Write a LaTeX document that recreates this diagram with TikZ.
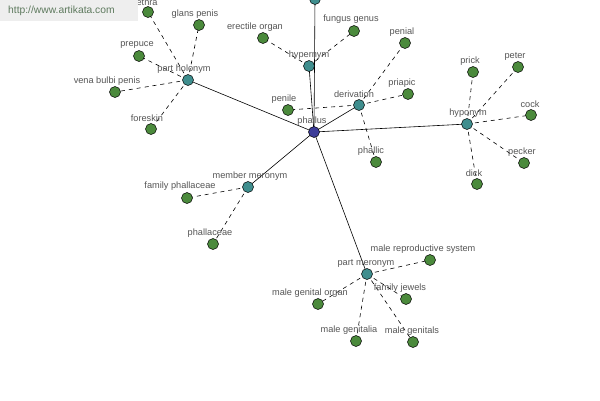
\documentclass[tikz,border=0pt]{standalone}
\usepackage{fontspec}
\setmainfont{Liberation Sans}
\usetikzlibrary{backgrounds}
\definecolor{leafc}{HTML}{4B8A3C}
\definecolor{relc}{HTML}{3F8E8E}
\definecolor{rootc}{HTML}{3C3C98}
\definecolor{txtc}{HTML}{555555}
\definecolor{wmc}{HTML}{5E7A5E}
\definecolor{wmbg}{HTML}{EEEEEE}
\tikzset{
  dot/.style={circle, draw=black, line width=0.5pt, minimum size=11pt, inner sep=0pt},
  leaf/.style={dot, fill=leafc},
  rel/.style={dot, fill=relc},
  root/.style={dot, fill=rootc},
  lbl/.style={text=txtc, font=\fontsize{9.2}{10}\selectfont, inner sep=0pt},
  solidedge/.style={draw=black, line width=0.6pt},
  dashedge/.style={draw=black, line width=0.6pt, dash pattern=on 4pt off 4pt},
}
\begin{document}
\begin{tikzpicture}[x=1pt, y=-1pt]
\useasboundingbox (0,0) rectangle (600,400);
\clip (0,0) rectangle (600,400);
% nodes
\node[root] (phallus) at (314,132) {};
\node[rel] (top) at (315,-1) {};
\node[rel] (hypernym) at (309,66) {};
\node[rel] (derivation) at (359,105) {};
\node[rel] (hyponym) at (467,124) {};
\node[rel] (partholonym) at (188,80) {};
\node[rel] (membermeronym) at (248,187) {};
\node[rel] (partmeronym) at (367,274) {};
\node[leaf] (erectile) at (263,38) {};
\node[leaf] (fungus) at (354,31) {};
\node[leaf] (penile) at (288,110) {};
\node[leaf] (penial) at (405,43) {};
\node[leaf] (priapic) at (408,94) {};
\node[leaf] (phallic) at (376,162) {};
\node[leaf] (prick) at (473,72) {};
\node[leaf] (peter) at (518,67) {};
\node[leaf] (cock) at (531,115) {};
\node[leaf] (pecker) at (524,163) {};
\node[leaf] (dick) at (477,184) {};
\node[leaf] (urethra) at (148,12) {};
\node[leaf] (glans) at (199,25) {};
\node[leaf] (prepuce) at (139,56) {};
\node[leaf] (vena) at (115,92) {};
\node[leaf] (foreskin) at (151,129) {};
\node[leaf] (famphall) at (187,198) {};
\node[leaf] (phallaceae) at (213,244) {};
\node[leaf] (malerep) at (430,260) {};
\node[leaf] (malegenorg) at (318,304) {};
\node[leaf] (jewels) at (406,299) {};
\node[leaf] (genitalia) at (356,341) {};
\node[leaf] (genitals) at (413,342) {};
% edges
\begin{scope}[on background layer]
\fill[white] (0,0) rectangle (600,400);
\draw[solidedge] (phallus.center) -- (top.center);
\draw[solidedge] (phallus.center) -- (hypernym.center);
\draw[solidedge] (phallus.center) -- (derivation.center);
\draw[solidedge] (phallus.center) -- (hyponym.center);
\draw[solidedge] (phallus.center) -- (partholonym.center);
\draw[solidedge] (phallus.center) -- (membermeronym.center);
\draw[solidedge] (phallus.center) -- (partmeronym.center);
\foreach \a/\b in {hypernym/erectile, hypernym/fungus,
  derivation/penile, derivation/penial, derivation/priapic, derivation/phallic,
  hyponym/prick, hyponym/peter, hyponym/cock, hyponym/pecker, hyponym/dick,
  partholonym/urethra, partholonym/glans, partholonym/prepuce, partholonym/vena, partholonym/foreskin,
  membermeronym/famphall, membermeronym/phallaceae,
  partmeronym/malerep, partmeronym/malegenorg, partmeronym/jewels, partmeronym/genitalia, partmeronym/genitals}
  \draw[dashedge] (\a.center) -- (\b.center);
\end{scope}
% labels
\node[lbl] (l-phallus) at (312,121) {phallus};
\node[lbl] (l-hypernym) at (309,55) {hypernym};
\node[lbl] (l-derivation) at (354,94) {derivation};
\node[lbl] (l-hyponym) at (468,113) {hyponym};
\node[lbl] (l-partholonym) at (184,69) {part holonym};
\node[lbl] (l-membermeronym) at (250,176) {member meronym};
\node[lbl] (l-partmeronym) at (366,263) {part meronym};
\node[lbl] (l-erectile) at (255,27) {erectile organ};
\node[lbl] (l-fungus) at (351,19) {fungus genus};
\node[lbl] (l-penile) at (284,99) {penile};
\node[lbl] (l-penial) at (402,32) {penial};
\node[lbl] (l-priapic) at (402,83) {priapic};
\node[lbl] (l-phallic) at (371,151) {phallic};
\node[lbl] (l-prick) at (470,61) {prick};
\node[lbl] (l-peter) at (515,56) {peter};
\node[lbl] (l-cock) at (530,104) {cock};
\node[lbl] (l-pecker) at (522,152) {pecker};
\node[lbl] (l-dick) at (474,173) {dick};
\node[lbl] (l-urethra) at (143,2) {urethra};
\node[lbl] (l-glans) at (195,14) {glans penis};
\node[lbl] (l-prepuce) at (137,45) {prepuce};
\node[lbl] (l-vena) at (107,81) {vena bulbi penis};
\node[lbl] (l-foreskin) at (147,118) {foreskin};
\node[lbl] (l-famphall) at (180,186) {family phallaceae};
\node[lbl] (l-phallaceae) at (210,233) {phallaceae};
\node[lbl] (l-malerep) at (423,249) {male reproductive system};
\node[lbl] (l-malegenorg) at (310,293) {male genital organ};
\node[lbl] (l-jewels) at (400,288) {family jewels};
\node[lbl] (l-genitalia) at (349,330) {male genitalia};
\node[lbl] (l-genitals) at (412,331) {male genitals};
% watermark (drawn on top)
\node[fill=wmbg, minimum width=138pt, minimum height=21pt, inner sep=0pt, anchor=north west] (wmbox) at (0,0) {};
\node[text=wmc, font=\fontsize{10.3}{12}\selectfont, anchor=west, inner sep=0pt] (wm) at (8,11) {http://www.artikata.com};
\end{tikzpicture}
\end{document}
